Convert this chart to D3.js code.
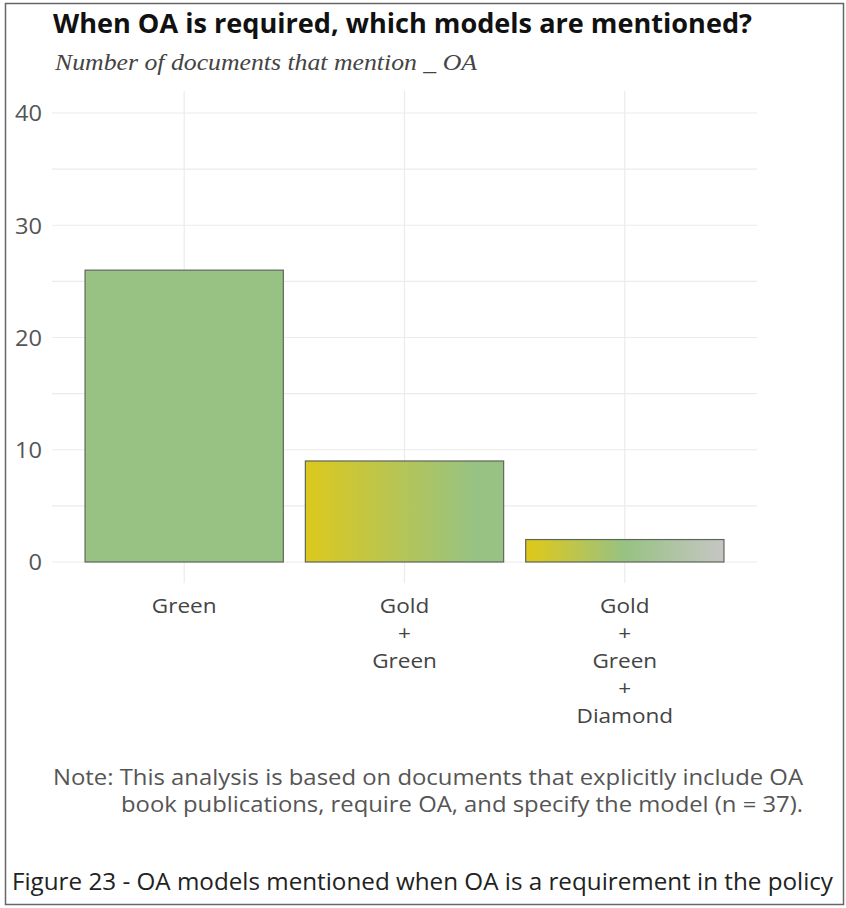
<!DOCTYPE html>
<html>
<head>
<meta charset="utf-8">
<script src="https://cdn.jsdelivr.net/npm/d3@7"></script>
<style>
  html, body { margin: 0; padding: 0; background: #fff; }
  svg { display: block; }
</style>
</head>
<body>
<svg id="chart" width="846" height="908"></svg>
<script>
// ---- data ----
const categories = ["Green", "Gold\n+\nGreen", "Gold\n+\nGreen\n+\nDiamond"];
const counts = [26, 9, 2];
const barColors = [
  ["#97c283"],
  ["#dbc81f", "#97c283"],
  ["#dbc81f", "#97c283", "#c6c6c4"]
];
const yTicks = [0, 10, 20, 30, 40];
const yMinorTicks = [5, 15, 25, 35];
const title = "When OA is required, which models are mentioned?";
const subtitle = "Number of documents that mention _ OA";
const noteLines = [
  "Note: This analysis is based on documents that explicitly include OA",
  "book publications, require OA, and specify the model (n = 37)."
];
const caption = "Figure 23 - OA models mentioned when OA is a requirement in the policy";

// ---- drawing ----
const svg = d3.select("#chart");
const sans = "'Open Sans', 'Noto Sans', sans-serif";
const hStretch = 1.1;

// outer frame
svg.append("rect")
  .attr("x", 5.5).attr("y", 3.5).attr("width", 838).attr("height", 901)
  .attr("fill", "none").attr("stroke", "#666").attr("stroke-width", 1.5);

const panel = { left: 52, right: 757, top: 91, bottom: 583 };

const x = d3.scaleBand()
  .domain(categories)
  .range([panel.left, panel.right])
  .paddingInner(0.1)
  .paddingOuter(0.15);

const y = d3.scaleLinear().domain([0, 40]).range([562, 113]);

// gridlines
const grid = svg.append("g").attr("stroke", "#ebebeb").attr("stroke-width", 1.2);
grid.selectAll("line.h")
  .data(yTicks.concat(yMinorTicks))
  .join("line")
  .attr("x1", panel.left).attr("x2", panel.right)
  .attr("y1", d => y(d)).attr("y2", d => y(d));
grid.selectAll("line.v")
  .data(categories)
  .join("line")
  .attr("x1", d => x(d) + x.bandwidth() / 2)
  .attr("x2", d => x(d) + x.bandwidth() / 2)
  .attr("y1", panel.top).attr("y2", panel.bottom);

// gradients
const defs = svg.append("defs");
categories.forEach((c, i) => {
  const cols = barColors[i];
  const g = defs.append("linearGradient")
    .attr("id", "grad" + i)
    .attr("x1", "0%").attr("x2", "100%").attr("y1", "0%").attr("y2", "0%");
  const offs = cols.length === 1 ? [0] : (cols.length === 2 ? [0.02, 0.85] : [0.04, 0.5, 1]);
  cols.forEach((col, j) => {
    g.append("stop").attr("offset", offs[j]).attr("stop-color", col);
  });
});

// bars
svg.append("g").selectAll("rect")
  .data(categories)
  .join("rect")
  .attr("x", d => x(d))
  .attr("width", x.bandwidth())
  .attr("y", (d, i) => y(counts[i]))
  .attr("height", (d, i) => y(0) - y(counts[i]))
  .attr("fill", (d, i) => `url(#grad${i})`)
  .attr("stroke", "#5f665c")
  .attr("stroke-width", 1.2);

// y axis labels
const yAxis = d3.axisLeft(y).tickValues(yTicks).tickSize(0).tickPadding(0);
const yg = svg.append("g").attr("transform", "translate(42,0)").call(yAxis);
yg.select(".domain").remove();
yg.selectAll("text")
  .attr("font-family", sans).attr("font-size", 21.5).attr("fill", "#555")
  .attr("dy", "0.36em")
  .attr("x", 0)
  .attr("textLength", d => String(d).length * 13.5)
  .attr("lengthAdjust", "spacingAndGlyphs");

// x axis labels (multi-line)
const xl = svg.append("g");
categories.forEach(c => {
  const lines = c.split("\n");
  const t = xl.append("text")
    .attr("transform", `translate(${x(c) + x.bandwidth() / 2},0) scale(${hStretch},1)`)
    .attr("text-anchor", "middle")
    .attr("font-family", sans).attr("font-size", 20.5).attr("fill", "#444");
  lines.forEach((ln, k) => {
    t.append("tspan")
      .attr("x", 0)
      .attr("y", 613 + k * 27.5)
      .text(ln);
  });
});

function textLine(xp, yp, str, size, fill, len, opts) {
  const t = svg.append("text").attr("x", xp).attr("y", yp)
    .attr("font-family", opts && opts.family ? opts.family : sans)
    .attr("font-size", size).attr("fill", fill)
    .attr("textLength", len).attr("lengthAdjust", "spacingAndGlyphs")
    .text(str);
  if (opts && opts.bold) t.attr("font-weight", "bold");
  if (opts && opts.italic) t.attr("font-style", "italic");
  return t;
}

// title & subtitle
textLine(53, 33, title, 26.5, "#111", 699, { bold: true });
textLine(55, 70, subtitle, 22.5, "#444", 422,
  { italic: true, family: "'Liberation Serif', 'DejaVu Serif', serif" });

// note
textLine(53, 785, noteLines[0], 21.5, "#555", 750);
textLine(121, 812, noteLines[1], 21.5, "#555", 682);

// caption
textLine(12, 890, caption, 23, "#222", 821);
</script>
</body>
</html>
